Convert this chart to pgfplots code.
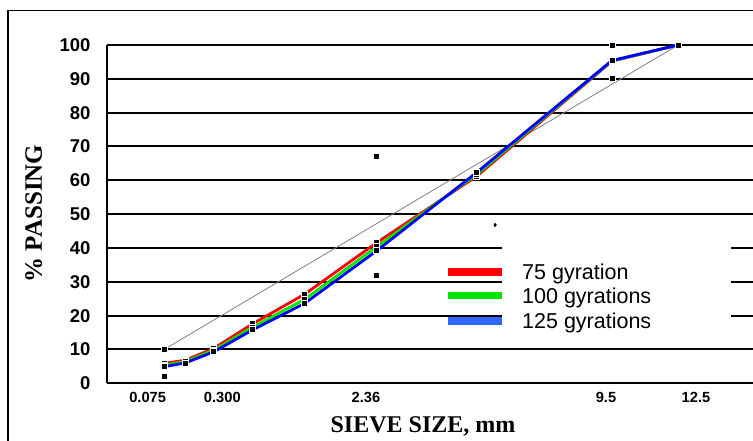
\documentclass[border=0pt]{standalone}
\usepackage{pgfplots}
\pgfplotsset{compat=1.18}
\usepackage{fontspec}
\setmainfont{Liberation Serif}
\newfontfamily\arial{Liberation Sans}

\definecolor{gyrA}{RGB}{255,0,0}
\definecolor{gyrB}{RGB}{0,230,0}
\definecolor{gyrC}{RGB}{0,0,255}
\definecolor{gyrCkey}{RGB}{51,102,255}

% x values are sieve size (mm) raised to the 0.45 power:
% 0.075 -> 0.3117, 0.15 -> 0.4259, 0.3 -> 0.5817, 0.6 -> 0.7946,
% 1.18 -> 1.0773, 2.36 -> 1.4717, 4.75 -> 2.0160, 9.5 -> 2.7541, 12.5 -> 3.1161

\begin{document}
\begin{tikzpicture}
\path[use as bounding box] (0pt,0pt) rectangle (753pt,441pt);
% outer frame
\draw[line width=1.3pt] (8pt,-5pt) -- (8pt,430.3pt) -- (760pt,430.3pt);

\begin{axis}[
  at={(107pt,57.7pt)}, anchor=south west,
  scale only axis, width=646pt, height=338.3pt,
  xmin=0, xmax=3.524, ymin=0, ymax=100,
  axis x line=bottom, axis y line=left,
  axis line style={line width=2pt, -},
  major tick length=0pt,
  ytick={0,10,...,100},
  xtick={0.222,0.629,1.413,2.722,3.213},
  xticklabels={0.075,0.300,2.36,9.5,12.5},
  /pgf/number format/assume math mode=true,
  yticklabel style={font=\arial\bfseries\fontsize{18.5}{20}\selectfont, anchor=east, inner sep=0pt, xshift=-16.3pt},
  xticklabel style={font=\arial\bfseries\fontsize{14.7}{16}\selectfont, anchor=north, inner sep=0pt, yshift=-8.4pt},
  ymajorgrids, major grid style={line width=2pt, black},
  mark options={solid},
]
% maximum density line
\addplot[gray, line width=0.8pt] coordinates {(0.3117,10.0) (3.1161,100)};
% control points
\addplot[only marks, mark=square*, mark size=3pt, mark options={fill=black, draw=white, line width=0.7pt}]
  coordinates {(0.3117,2) (0.3117,10) (1.4717,32) (1.4717,67) (2.7541,90) (2.7541,100) (3.1161,100)};
\addplot[only marks, mark=diamond*, mark size=1.8pt, black] coordinates {(2.117,46.8)};
% 75 gyrations
\addplot[gyrA, line width=2.8pt, mark=square*, mark size=3pt, mark options={fill=black, draw=white, line width=0.7pt}]
  coordinates {(0.3117,5.9) (0.4259,6.8) (0.5817,10.3) (0.7946,17.6) (1.0773,26.3) (1.4717,41.6) (2.0160,61.2) (2.7541,95.2) (3.1161,100)};
% 100 gyrations
\addplot[gyrB, line width=2.8pt, mark=square*, mark size=3pt, mark options={fill=black, draw=white, line width=0.7pt}]
  coordinates {(0.3117,5.4) (0.4259,6.4) (0.5817,9.8) (0.7946,16.6) (1.0773,24.8) (1.4717,40.4) (2.0160,61.8) (2.7541,95.3) (3.1161,100)};
% 125 gyrations
\addplot[gyrC, line width=2.8pt, mark=square*, mark size=3pt, mark options={fill=black, draw=white, line width=0.7pt}]
  coordinates {(0.3117,4.9) (0.4259,6.0) (0.5817,9.3) (0.7946,15.8) (1.0773,23.6) (1.4717,39.2) (2.0160,62.3) (2.7541,95.4) (3.1161,100)};
\end{axis}

% legend
\fill[white] (502pt,99pt) rectangle (731pt,211pt);
\draw[gyrA, line width=7.5pt] (448pt,168.8pt) -- (502pt,168.8pt);
\draw[gyrB, line width=7.5pt] (448pt,145.7pt) -- (502pt,145.7pt);
\draw[gyrCkey, line width=7.5pt] (448pt,119.8pt) -- (502pt,119.8pt);
\node[anchor=base west, inner sep=0pt, font=\arial\fontsize{21.5}{24}\selectfont] at (522pt,161pt) {75 gyration};
\node[anchor=base west, inner sep=0pt, font=\arial\fontsize{21.5}{24}\selectfont] at (522pt,137.7pt) {100 gyrations};
\node[anchor=base west, inner sep=0pt, font=\arial\fontsize{21.5}{24}\selectfont] at (522pt,112pt) {125 gyrations};

% axis titles
\node[rotate=90, inner sep=0pt, font=\bfseries\fontsize{25}{28}\selectfont] at (33.8pt,227.5pt) {\% PASSING};
\node[anchor=base, inner sep=0pt, font=\bfseries\fontsize{24}{27}\selectfont] at (423pt,8.7pt) {SIEVE SIZE, mm};
\end{tikzpicture}
\end{document}
